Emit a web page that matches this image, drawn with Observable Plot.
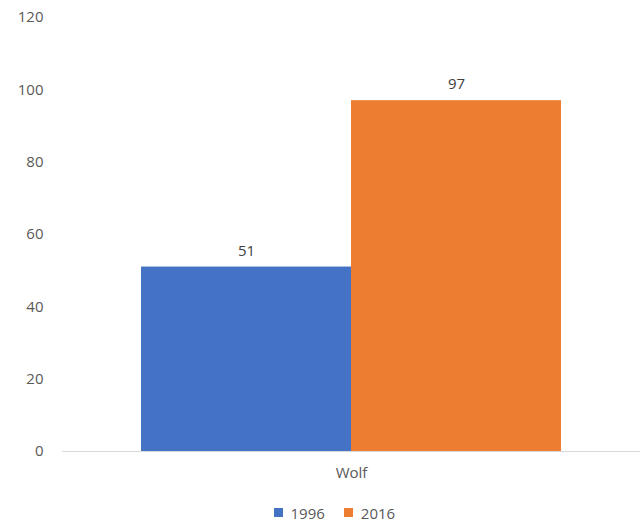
<!DOCTYPE html>
<html>
<head>
<meta charset="utf-8">
<script src="https://cdn.jsdelivr.net/npm/d3@7"></script>
<script src="https://cdn.jsdelivr.net/npm/@observablehq/plot@0.6"></script>
<style>
  html, body { margin: 0; padding: 0; background: #fff; }
  #chart { width: 642px; }
  #legend { padding-left: 274px; }
  #legend span { margin-right: 1.3em; }
</style>
</head>
<body>
<div id="chart"></div>
<div id="legend"></div>
<script>
const categories = ["Wolf"];
const years = ["1996", "2016"];
const values1996 = [51];
const values2016 = [97];
const yTicks = [0, 20, 40, 60, 80, 100, 120];
const colors = ["#4472C4", "#ED7D31"];

const data = [];
categories.forEach((c, i) => {
  data.push({category: c, year: years[0], value: values1996[i]});
  data.push({category: c, year: years[1], value: values2016[i]});
});

const font = "'Open Sans', sans-serif";

const plot = Plot.plot({
  width: 642,
  height: 496,
  marginLeft: 62,
  marginRight: 2,
  marginTop: 17,
  marginBottom: 45,
  style: {fontFamily: font, fontSize: "15px", color: "#595959", background: "#fff"},
  x: {domain: years, paddingInner: 0, paddingOuter: 0.37, axis: null},
  y: {domain: [0, 120], ticks: yTicks, tickSize: 0, tickPadding: 19, label: null, tickFormat: d => d},
  color: {domain: years, range: colors},
  marks: [
    Plot.ruleY([0], {stroke: "#D9D9D9", strokeWidth: 1}),
    Plot.barY(data, {x: "year", y: "value", fill: "year"}),
    Plot.text(data, {x: "year", y: "value", text: d => String(d.value), dy: -16, fill: "#404040", fontSize: 15}),
    Plot.text(categories, {frameAnchor: "bottom", dy: 26, text: d => d, fill: "#595959", fontSize: 15})
  ]
});
document.getElementById("chart").appendChild(plot);

const legend = Plot.legend({
  color: {type: "ordinal", domain: years, range: colors},
  swatchSize: 9,
  style: {fontFamily: font, fontSize: "15px", color: "#595959"}
});
document.getElementById("legend").appendChild(legend);
</script>
</body>
</html>
